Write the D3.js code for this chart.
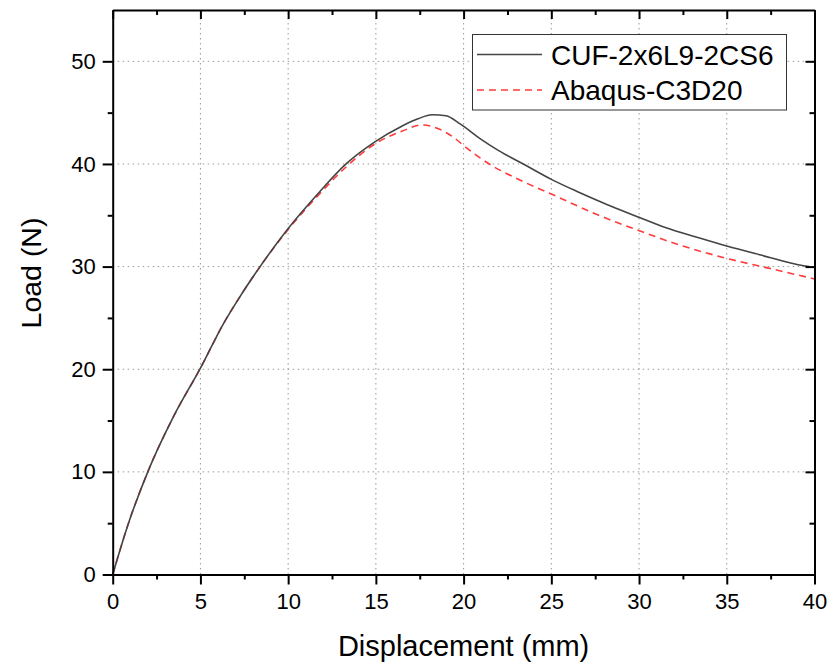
<!DOCTYPE html>
<html>
<head>
<meta charset="utf-8">
<script src="https://cdn.jsdelivr.net/npm/d3@7"></script>
<style>
  body { margin: 0; background: #fff; }
  svg { font-family: "Liberation Sans", Arial, sans-serif; }
  .axis path { stroke: #000; stroke-width: 2; }
  .axis line { stroke: #000; stroke-width: 2; }
  .axis text { font-size: 22px; fill: #000; }
  .grid line { stroke: #999; stroke-width: 1; stroke-dasharray: 1.5,3.5; }
</style>
</head>
<body>
<svg id="chart" width="832" height="669"></svg>
<script>
// CUF-2x6L9-2CS6
const cufX = [0, 0.9, 2.0, 3.5, 5.0, 6.3, 7.3, 8.4, 9.9, 11.8, 13.3, 14.9, 16.5, 17.4, 18.2, 19.0, 19.8, 21, 22, 23.4, 25, 26.5, 27.7, 30, 31.5, 33.4, 35, 37, 39.3, 39.7]
const cufY = [0, 5, 10, 15.5, 20.1, 24.4, 27.2, 30, 33.5, 37.3, 40, 42.1, 43.7, 44.4, 44.8, 44.7, 43.9, 42.4, 41.3, 40, 38.5, 37.3, 36.4, 34.8, 33.8, 32.8, 32, 31.1, 30.1, 30]

// Abaqus-C3D20
const abqX = [0, 0.9, 2.0, 3.5, 5.0, 6.3, 7.3, 8.4, 9.9, 11.8, 13.3, 14.9, 16.5, 17.6, 18.6, 19.5, 20, 21.46, 23, 25, 27.7, 30, 32.5, 35, 37.5, 40]
const abqY = [0, 5, 10, 15.5, 20.1, 24.4, 27.2, 30, 33.4, 37.1, 39.7, 41.9, 43.2, 43.8, 43.4, 42.5, 41.8, 40, 38.6, 37.07, 35, 33.5, 32, 30.8, 29.8, 28.8]

const xTicks = [0, 5, 10, 15, 20, 25, 30, 35, 40]
const yTicks = [0, 10, 20, 30, 40, 50]
const xMinor = [2.5, 7.5, 12.5, 17.5, 22.5, 27.5, 32.5, 37.5]
const yMinor = [5, 15, 25, 35, 45]

const seriesNames = ["CUF-2x6L9-2CS6", "Abaqus-C3D20"]

const svg = d3.select('#chart')
const margin = {left: 112.7, right: 17.5, top: 10, bottom: 94.5}
const W = 832, H = 669

let x = d3.scaleLinear().domain([0, 40]).range([margin.left, W - margin.right])
let y = d3.scaleLinear().domain([0, 55]).range([H - margin.bottom, margin.top])

// grid
let grid = svg.append('g').attr('class', 'grid')
grid.selectAll('line.gx')
	.data(xTicks.filter(d => d > 0 && d < 40))
	.enter().append('line')
		.attr('x1', d => x(d)).attr('x2', d => x(d))
		.attr('y1', y(0)).attr('y2', y(55))
grid.selectAll('line.gy')
	.data(yTicks.filter(d => d > 0))
	.enter().append('line')
		.attr('x1', x(0)).attr('x2', x(40))
		.attr('y1', d => y(d)).attr('y2', d => y(d))

// lines
let cuf = cufX.map((d, i) => ({x: d, y: cufY[i]}))
let abq = abqX.map((d, i) => ({x: d, y: abqY[i]}))
let line = d3.line().x(d => x(d.x)).y(d => y(d.y)).curve(d3.curveMonotoneX)

svg.append('path').datum(abq)
	.attr('fill', 'none').attr('stroke', '#ff3b3b').attr('stroke-width', 1.6)
	.attr('stroke-dasharray', '7,5').attr('d', line)
svg.append('path').datum(cuf)
	.attr('fill', 'none').attr('stroke', '#444').attr('stroke-width', 1.6)
	.attr('d', line)

// axes
function minor(g, axis){
	g.call(axis)
	g.selectAll('.domain').remove()
}
let bottom = svg.append('g').attr('class', 'axis')
	.attr('transform', 'translate(0,' + y(0) + ')')
	.call(d3.axisBottom(x).tickValues(xTicks).tickSize(10).tickSizeOuter(0).tickPadding(6))
bottom.selectAll('text').attr('dy', '0.85em')
svg.append('g').attr('class', 'axis')
	.attr('transform', 'translate(0,' + y(0) + ')')
	.call(g => minor(g, d3.axisBottom(x).tickValues(xMinor).tickSize(5).tickFormat('')))

let left = svg.append('g').attr('class', 'axis')
	.attr('transform', 'translate(' + x(0) + ',0)')
	.call(d3.axisLeft(y).tickValues(yTicks).tickSize(10).tickSizeOuter(0).tickPadding(7))
svg.append('g').attr('class', 'axis')
	.attr('transform', 'translate(' + x(0) + ',0)')
	.call(g => minor(g, d3.axisLeft(y).tickValues(yMinor).tickSize(5).tickFormat('')))

// mirror axes, ticks pointing in
svg.append('g').attr('class', 'axis')
	.attr('transform', 'translate(0,' + y(55) + ')')
	.call(d3.axisBottom(x).tickValues(xTicks).tickSize(9).tickSizeOuter(0).tickFormat(''))
svg.append('g').attr('class', 'axis')
	.attr('transform', 'translate(0,' + y(55) + ')')
	.call(g => minor(g, d3.axisBottom(x).tickValues(xMinor).tickSize(5).tickFormat('')))
svg.append('g').attr('class', 'axis')
	.attr('transform', 'translate(' + x(40) + ',0)')
	.call(d3.axisLeft(y).tickValues(yTicks).tickSize(9).tickSizeOuter(0).tickFormat(''))
svg.append('g').attr('class', 'axis')
	.attr('transform', 'translate(' + x(40) + ',0)')
	.call(g => minor(g, d3.axisLeft(y).tickValues(yMinor).tickSize(5).tickFormat('')))

// titles
svg.append('text')
	.attr('x', (x(0) + x(40)) / 2).attr('y', 656)
	.attr('text-anchor', 'middle').attr('font-size', 29)
	.text('Displacement (mm)')
svg.append('text')
	.attr('transform', 'translate(41,273) rotate(-90)')
	.attr('text-anchor', 'middle').attr('font-size', 28.5)
	.text('Load (N)')

// legend
let lg = svg.append('g')
lg.append('rect')
	.attr('x', 472.5).attr('y', 34.5).attr('width', 314).attr('height', 75.5)
	.attr('fill', '#fff').attr('stroke', '#333').attr('stroke-width', 1)
let styles = [{c: '#444', dash: null}, {c: '#ff3b3b', dash: '7,5'}]
seriesNames.forEach((n, i) => {
	let yy = 54.5 + i * 35.5
	lg.append('line')
		.attr('x1', 477).attr('x2', 542).attr('y1', yy).attr('y2', yy)
		.attr('stroke', styles[i].c).attr('stroke-width', 1.6)
		.attr('stroke-dasharray', styles[i].dash)
	lg.append('text')
		.attr('x', 551).attr('y', yy + 10)
		.attr('font-size', 28)
		.text(n)
})
</script>
</body>
</html>
